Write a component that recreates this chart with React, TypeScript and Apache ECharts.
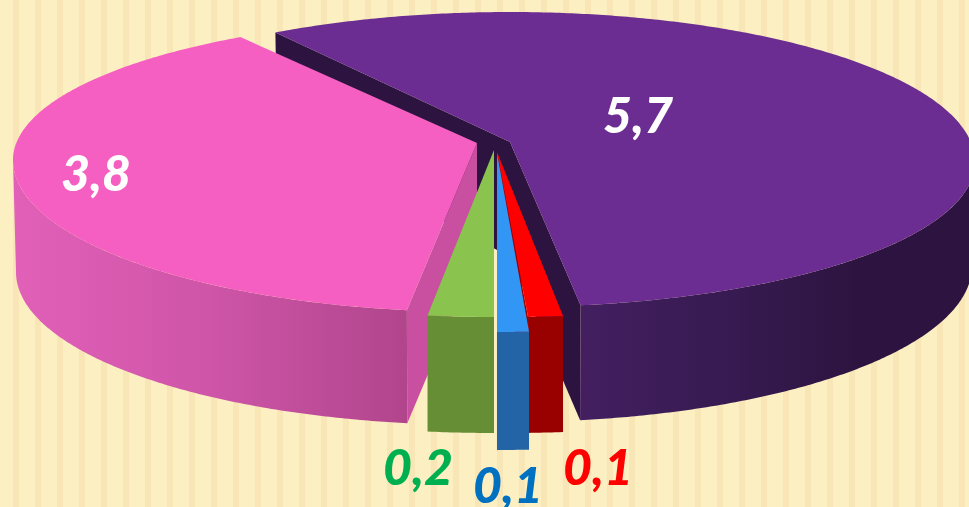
import React, { useEffect, useRef } from "react";
import * as echarts from "echarts";

// Data
const categories = ["Purple", "Pink", "Red", "Blue", "Green"];
const values = [5.7, 3.8, 0.1, 0.1, 0.2];
const total = values.reduce((a, b) => a + b, 0);

// Styling
const topColors = ["#6B2D91", "#F55FC1", "#FF0000", "#3296F5", "#8BC34F"];
const cutColors = ["#2D1440", "#C94FA0", "#990000", "#2264A6", "#668E35"];
const outerStops: [number, string][][] = [
  [[0, "#431F60"], [0.4, "#361A50"], [0.7, "#2D1440"], [1, "#2D1440"]],
  [[0, "#E260B8"], [0.5, "#CE55A8"], [1, "#B1458C"]],
  [[0, "#990000"], [1, "#990000"]],
  [[0, "#2264A6"], [1, "#2264A6"]],
  [[0, "#668E35"], [1, "#668E35"]],
];
const labelColors = ["#FFFFFF", "#FFFFFF", "#FF0000", "#0070C0", "#00B050"];

// Layout of the exploded, perspective-drawn wedges
type Wedge = {
  apex: [number, number]; depth: number;
  top: { cx: number; cy: number; a: number; up: number; down: number };
  bottom: { cx: number; cy: number; a: number; b: number };
  start: number; gain: number; cuts: string;
  label: [number, number];
};
const wedges: Wedge[] = [
  { apex: [510, 142], depth: 115, top: { cx: 510, cy: 162, a: 465, up: 150, down: 145 }, bottom: { cx: 510, cy: 266, a: 462, b: 156 }, start: -120.3, gain: 0.9725, cuts: "both", label: [638, 114] },
  { apex: [477, 143], depth: 115, top: { cx: 478, cy: 160, a: 465, up: 143, down: 152 }, bottom: { cx: 478, cy: 272, a: 462, b: 153 }, start: 98.8, gain: 1.0165, cuts: "start", label: [96, 172] },
  { apex: [497, 152], depth: 116, top: { cx: 510, cy: 172, a: 465, up: 145, down: 145 }, bottom: { cx: 510, cy: 288, a: 465, b: 145 }, start: 83.45, gain: 1.19, cuts: "end", label: [598, 466] },
  { apex: [497, 153], depth: 118, top: { cx: 497, cy: 187, a: 465, up: 145, down: 145 }, bottom: { cx: 497, cy: 305, a: 465, b: 145 }, start: 86.05, gain: 1.087, cuts: "none", label: [508, 484] },
  { apex: [494, 150], depth: 116, top: { cx: 494, cy: 172, a: 465, up: 145, down: 145 }, bottom: { cx: 494, cy: 288, a: 465, b: 145 }, start: 90, gain: 1.13, cuts: "none", label: [418, 466] },
];

const rad = (d: number) => (d * Math.PI) / 180;
const onTop = (w: Wedge, t: number): [number, number] => {
  const s = Math.sin(rad(t));
  return [w.top.cx + w.top.a * Math.cos(rad(t)), w.top.cy + (s < 0 ? w.top.up : w.top.down) * s];
};
const onBottom = (w: Wedge, t: number): [number, number] => [
  w.bottom.cx + w.bottom.a * Math.cos(rad(t)),
  w.bottom.cy + w.bottom.b * Math.sin(rad(t)),
];
const sweepTs = (from: number, to: number) => {
  const n = Math.max(2, Math.ceil((to - from) * 2));
  const ts: number[] = [];
  for (let i = 0; i <= n; i++) ts.push(from + ((to - from) * i) / n);
  return ts;
};

const renderItem = (params: any, api: any) => {
  const i = params.dataIndex;
  const value = api.value(0) as number;
  const w = wedges[i];
  const end = w.start + (value / total) * 360 * w.gain;
  const children: any[] = [];
  const cutWall = (t: number) => ({
    type: "polygon",
    shape: { points: [w.apex, onTop(w, t), onBottom(w, t), [w.apex[0], w.apex[1] + w.depth]] },
    style: { fill: cutColors[i] },
  });
  if (w.cuts === "both" || w.cuts === "start") children.push(cutWall(w.start));
  if (w.cuts === "both" || w.cuts === "end") children.push(cutWall(end));

  const from = Math.max(w.start, 0);
  const to = Math.min(end, 180);
  const ts = sweepTs(from, to);
  children.push({
    type: "polygon",
    shape: { points: [...ts.map((t) => onTop(w, t)), ...ts.slice().reverse().map((t) => onBottom(w, t))] },
    style: {
      fill: {
        type: "linear", x: 0, y: 0, x2: 1, y2: 0,
        colorStops: outerStops[i].map(([offset, color]) => ({ offset, color })),
      },
    },
  });
  children.push({
    type: "polygon",
    shape: { points: [w.apex, ...sweepTs(w.start, end).map((t) => onTop(w, t))] },
    style: { fill: topColors[i] },
  });
  children.push({
    type: "text",
    style: {
      text: value.toFixed(1).replace(".", ","),
      x: w.label[0], y: w.label[1],
      fill: labelColors[i],
      font: "italic 900 50px Lato",
      align: "center", verticalAlign: "middle",
    },
  });
  return { type: "group", children };
};

export default function App() {
  const ref = useRef<HTMLDivElement>(null);
  useEffect(() => {
    document.body.style.margin = "0";
    const chart = echarts.init(ref.current!, undefined, { renderer: "svg" });
    chart.setOption({
      animation: false,
      backgroundColor: "transparent",
      series: [{
        type: "custom",
        coordinateSystem: "none",
        renderItem,
        silent: true,
        clip: false,
        data: categories.map((name, i) => ({ name, value: [values[i]] })),
      }],
    });
    return () => chart.dispose();
  }, []);
  return (
    <div
      ref={ref}
      style={{
        width: 969,
        height: 507,
        overflow: "hidden",
        background: "repeating-linear-gradient(90deg, #FCEFC2 0 13px, #F8E6B6 13px 19px, #FCEFC2 19px 22px)",
      }}
    />
  );
}
